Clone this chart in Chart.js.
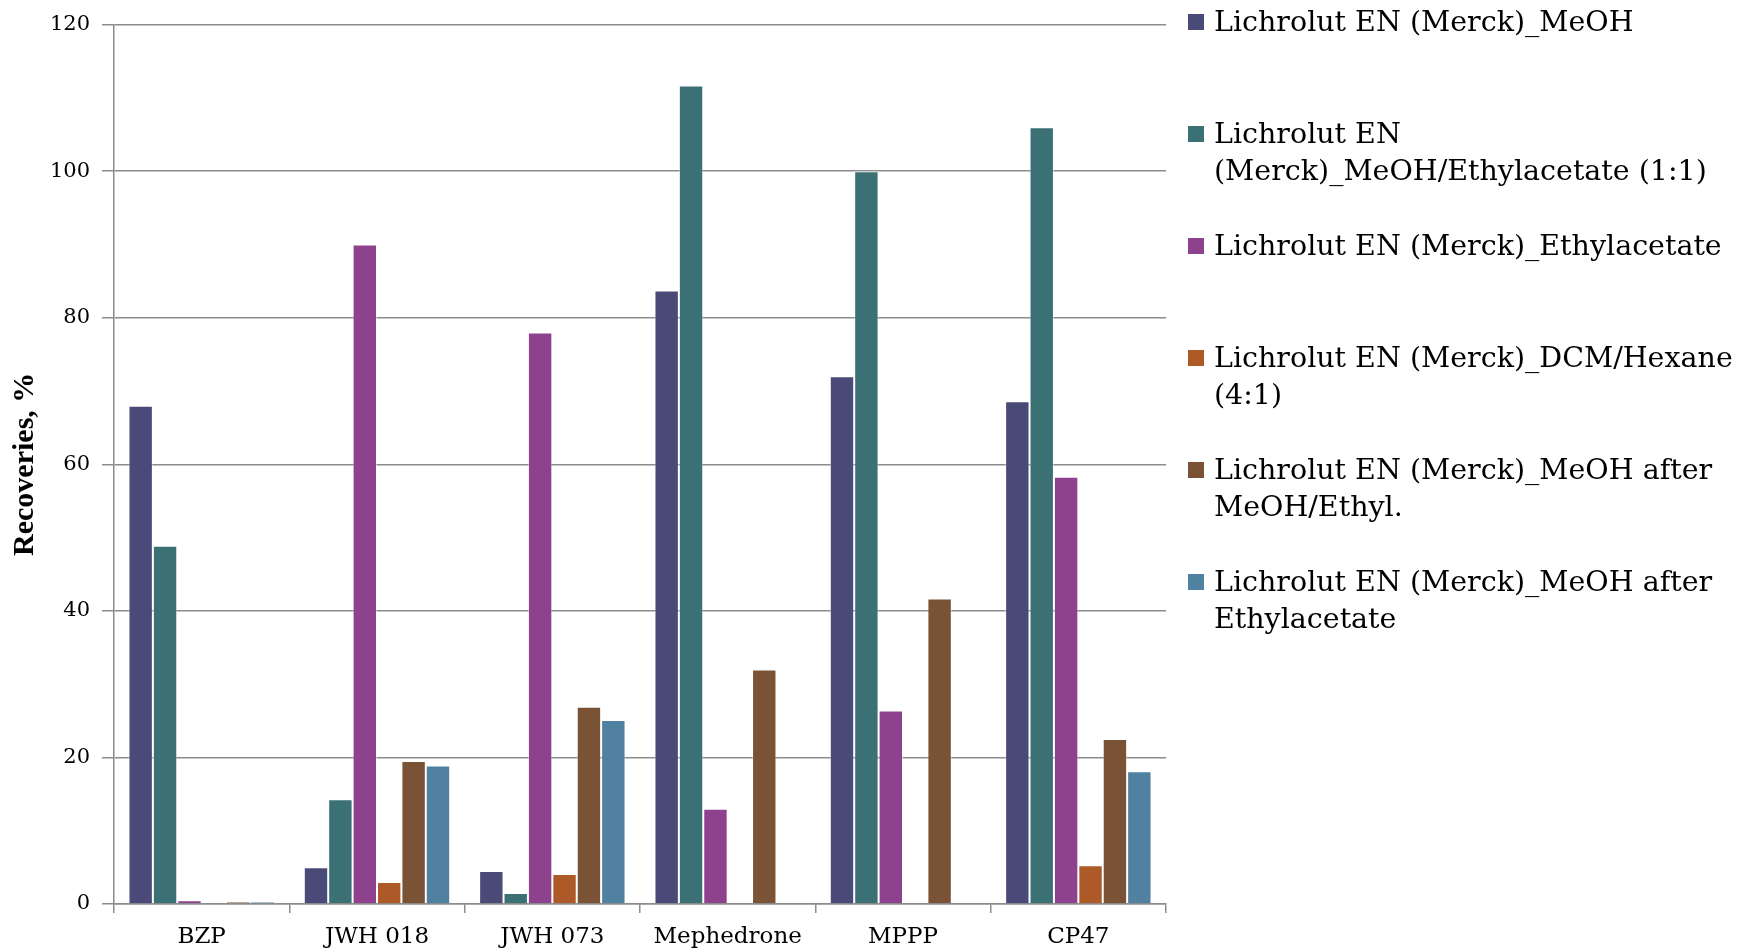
<!DOCTYPE html>
<html>
<head>
<meta charset="utf-8">
<script src="https://cdn.jsdelivr.net/npm/chart.js@4"></script>
<style>
  html, body { margin: 0; padding: 0; background: #fff; }
  #wrap { position: relative; width: 1741px; height: 952px; }
  #legend { position: absolute; left: 1188px; top: 0; font-family: "DejaVu Serif", serif; font-size: 28.5px; line-height: 37px; color: #000; }
  .item { position: absolute; left: 0; white-space: nowrap; }
  .box { position: absolute; left: 0; top: 11px; width: 16px; height: 16px; }
  .txt { position: absolute; left: 26px; top: 0; }
</style>
</head>
<body>
<div id="wrap">
  <canvas id="chart" width="1741" height="952"></canvas>
  <div id="legend"></div>
</div>
<script>
const categories = ["BZP", "JWH 018", "JWH 073", "Mephedrone", "MPPP", "CP47"];

const seriesNames = [
  "Lichrolut EN (Merck)_MeOH",
  "Lichrolut EN<br>(Merck)_MeOH/Ethylacetate (1:1)",
  "Lichrolut EN (Merck)_Ethylacetate",
  "Lichrolut EN (Merck)_DCM/Hexane<br>(4:1)",
  "Lichrolut EN (Merck)_MeOH after<br>MeOH/Ethyl.",
  "Lichrolut EN (Merck)_MeOH after<br>Ethylacetate",
];

const meoh = [68, 5.0, 4.5, 83.7, 72, 68.6];
const meohEthyl = [48.9, 14.3, 1.5, 111.7, 100, 106];
const ethylacetate = [0.5, 90, 78, 13, 26.4, 58.3];
const dcmHexane = [0, 3.0, 4.1, 0, 0, 5.3];
const meohAfterMeohEthyl = [0.3, 19.5, 26.9, 32.0, 41.7, 22.5];
const meohAfterEthyl = [0.3, 18.9, 25.1, 0.1, 0, 18.1];

const colors = ["#4a4a78", "#3b7174", "#8e428e", "#ad5a28", "#7a5235", "#5181a1"];
const yTicks = [0, 20, 40, 60, 80, 100, 120];

const allSeries = [meoh, meohEthyl, ethylacetate, dcmHexane, meohAfterMeohEthyl, meohAfterEthyl];

const legendEl = document.getElementById("legend");
seriesNames.forEach((name, i) => {
  const item = document.createElement("div");
  item.className = "item";
  item.style.top = (3 + i * 112) + "px";
  item.innerHTML = `<span class="box" style="background:${colors[i]}"></span><span class="txt">${name}</span>`;
  legendEl.appendChild(item);
});

const ctx = document.getElementById("chart");
new Chart(ctx, {
  type: "bar",
  data: {
    labels: categories,
    datasets: allSeries.map((data, i) => ({
      label: seriesNames[i].replace("<br>", " "),
      data,
      backgroundColor: colors[i],
      borderColor: "rgba(255,255,255,0.45)",
      borderWidth: 1,
      categoryPercentage: 0.835,
      barPercentage: 1.0,
    })),
  },
  options: {
    responsive: false,
    animation: false,
    layout: { padding: { top: 22, right: 575, bottom: 0, left: 0 } },
    plugins: {
      legend: { display: false },
      tooltip: { enabled: false },
    },
    scales: {
      x: {
        grid: { display: true, drawOnChartArea: false, offset: true, color: "#8c8c8c", lineWidth: 1.5, tickLength: 9 },
        border: { color: "#8c8c8c", width: 1.5 },
        ticks: { color: "#000", font: { family: "DejaVu Serif", size: 23 }, padding: 10 },
        afterFit(scale) { scale.height = 48; },
      },
      y: {
        min: 0,
        max: 120,
        afterBuildTicks(scale) { scale.ticks = yTicks.map(v => ({ value: v })); },
        grid: { color: "#8c8c8c", lineWidth: 1.5, tickLength: 12 },
        border: { color: "#8c8c8c", width: 1.5 },
        ticks: { color: "#000", font: { family: "DejaVu Serif", size: 21 }, padding: 12 },
        title: {
          display: true,
          text: "Recoveries, %",
          color: "#000",
          font: { family: "Liberation Serif", size: 30, weight: "bold" },
          padding: { top: 7, bottom: 0 },
        },
        afterFit(scale) { scale.width = 114; },
      },
    },
  },
});
</script>
</body>
</html>
